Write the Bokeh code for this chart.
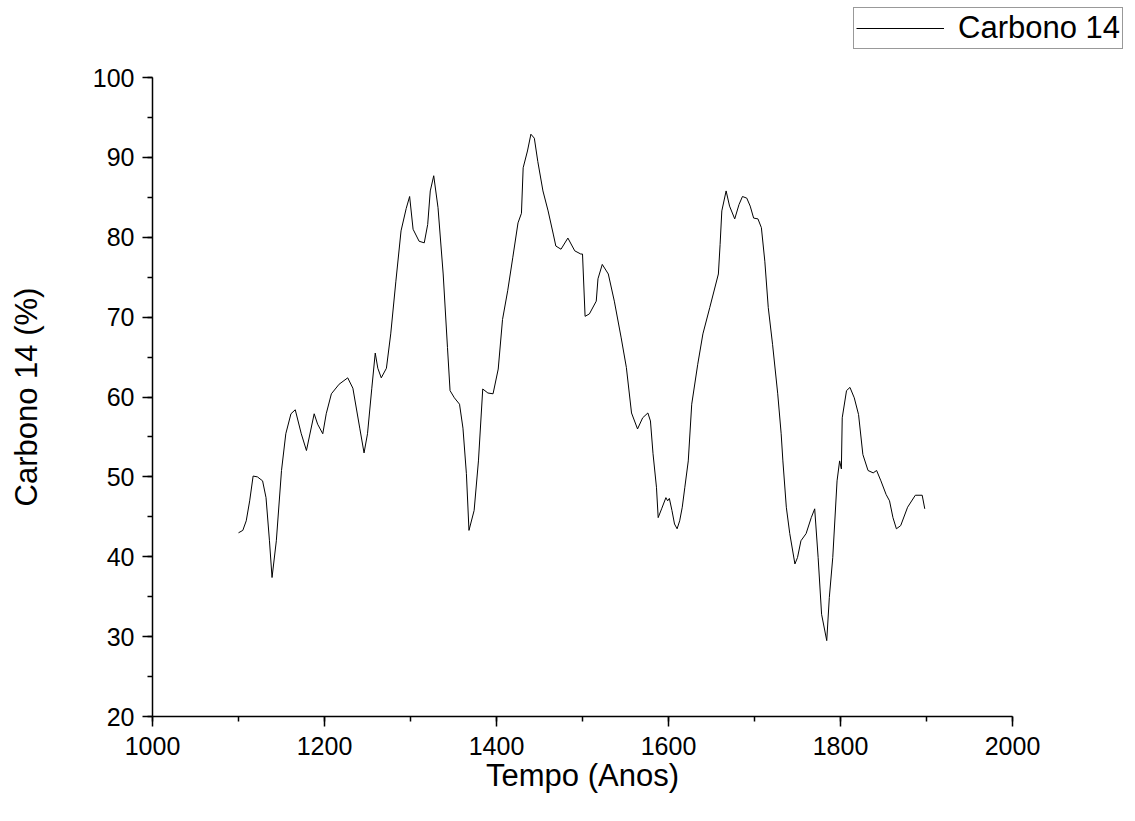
from bokeh.plotting import figure
from bokeh.models import Range1d, SingleIntervalTicker, Legend, LegendItem, ColumnDataSource
from bokeh.layouts import column, row
from bokeh.embed import file_html
from bokeh.resources import INLINE

years = [1100, 1105, 1109, 1113, 1117, 1122, 1128, 1132, 1136, 1139, 1144, 1150, 1155, 1161, 1166,
         1173, 1179, 1188, 1192, 1198, 1202, 1208, 1217, 1227, 1233, 1241, 1246, 1250, 1255, 1259,
         1262, 1266, 1272, 1277, 1283, 1289, 1295, 1299, 1303, 1310, 1316, 1320, 1323, 1327, 1332,
         1338, 1343, 1346, 1351, 1357, 1361, 1365, 1368, 1374, 1379, 1384, 1390, 1396, 1402, 1407,
         1413, 1419, 1425, 1429, 1431, 1436, 1440, 1444, 1448, 1454, 1460, 1466, 1469, 1475, 1483,
         1491, 1498, 1500, 1503, 1508, 1516, 1518, 1523, 1530, 1537, 1545, 1551, 1557, 1564, 1570,
         1576, 1579, 1582, 1586, 1588, 1592, 1597, 1599, 1601, 1604, 1607, 1610, 1613, 1616, 1619,
         1623, 1627, 1634, 1640, 1648, 1658, 1660, 1662, 1667, 1671, 1677, 1682, 1686, 1691, 1695,
         1699, 1704, 1708, 1712, 1716, 1721, 1727, 1731, 1733, 1737, 1741, 1747, 1750, 1754, 1760,
         1766, 1770, 1774, 1778, 1784, 1787, 1791, 1796, 1799, 1801, 1802, 1807, 1811, 1816, 1821,
         1826, 1832, 1838, 1842, 1847, 1853, 1857, 1861, 1865, 1870, 1878, 1887, 1895, 1898]

carbono14 = [43.0, 43.3, 44.5, 47.0, 50.1, 50.0, 49.5, 47.4, 42.0, 37.4, 42.0, 50.8, 55.4, 57.9, 58.4,
             55.4, 53.3, 57.9, 56.6, 55.4, 57.9, 60.4, 61.6, 62.4, 61.1, 56.1, 53.0, 55.4, 61.1, 65.5,
             63.6, 62.4, 63.6, 67.9, 74.5, 80.8, 83.6, 85.1, 81.0, 79.5, 79.3, 81.6, 85.8, 87.7, 83.7,
             75.4, 66.2, 60.8, 59.9, 59.1, 56.1, 50.4, 43.3, 45.8, 52.0, 61.0, 60.5, 60.4, 63.5, 69.7,
             73.3, 77.5, 81.8, 83.0, 88.7, 90.8, 92.9, 92.4, 89.5, 85.8, 83.3, 80.4, 78.9, 78.5, 79.9,
             78.3, 77.9, 77.9, 70.1, 70.4, 72.0, 74.8, 76.6, 75.4, 72.0, 67.4, 63.7, 58.0, 56.0, 57.4,
             58.0, 57.0, 52.9, 48.7, 44.9, 46.0, 47.4, 47.0, 47.3, 45.8, 44.1, 43.5, 44.5, 46.2, 48.7,
             52.0, 59.1, 64.1, 67.9, 71.2, 75.4, 79.1, 83.3, 85.8, 83.9, 82.3, 84.1, 85.1, 84.9, 83.9,
             82.4, 82.3, 81.2, 77.0, 71.2, 66.6, 60.4, 55.4, 52.0, 46.2, 42.9, 39.1, 39.9, 42.0, 42.9,
             44.9, 46.0, 39.9, 32.8, 29.5, 34.9, 39.9, 49.5, 52.0, 51.0, 57.4, 60.8, 61.2, 59.9, 57.8,
             52.8, 50.8, 50.5, 50.8, 49.5, 47.8, 47.0, 44.9, 43.5, 43.9, 46.2, 47.7, 47.7, 46.0]

series_name = "Carbono 14"
x_title = "Tempo (Anos)"
y_title = "Carbono 14 (%)"

FONT = "Liberation Sans"
TOP_H = 60

# legend strip above the plot (the reference's legend sits outside the plot frame)
top = figure(width=1135, height=TOP_H, output_backend="svg", toolbar_location=None,
             x_range=Range1d(0, 1), y_range=Range1d(0, 1),
             min_border=0, x_axis_type=None, y_axis_type=None)
top.outline_line_color = None
top.grid.visible = False
# proxy renderer for the legend swatch; its points lie outside the strip's visible range
legend_line = top.line(x=[5, 6], y=[5, 6], line_color="black", line_width=1)

legend = Legend(items=[LegendItem(label=series_name, renderers=[legend_line])],
                location=(853, TOP_H - 49), orientation="vertical")
legend.label_text_font = FONT
legend.label_text_font_size = "31px"
legend.label_text_color = "black"
legend.border_line_color = "#333333"
legend.border_line_width = 1
legend.background_fill_alpha = 1
legend.padding = 2
legend.margin = 0
legend.spacing = 0
legend.glyph_width = 88
legend.glyph_height = 30
legend.label_standoff = 14
legend.label_height = 30
top.add_layout(legend, "center")

p = figure(width=1135, height=821 - TOP_H, output_backend="svg", toolbar_location=None,
           x_range=Range1d(1000, 2000), y_range=Range1d(20, 100),
           min_border_left=152, min_border_right=123, min_border_top=77 - TOP_H,
           min_border_bottom=105)
p.outline_line_color = None
p.grid.visible = False

src = ColumnDataSource(dict(x=years, y=carbono14))
p.line("x", "y", source=src, line_color="black", line_width=1)

p.xaxis.ticker = SingleIntervalTicker(interval=200, num_minor_ticks=2)
p.yaxis.ticker = SingleIntervalTicker(interval=10, num_minor_ticks=2)

for ax in (p.xaxis[0], p.yaxis[0]):
    ax.axis_line_color = "black"
    ax.axis_line_width = 1.5
    ax.major_tick_line_color = "black"
    ax.major_tick_line_width = 1.5
    ax.minor_tick_line_color = "black"
    ax.minor_tick_line_width = 1.5
    ax.major_tick_in = 0
    ax.major_tick_out = 10
    ax.minor_tick_in = 0
    ax.minor_tick_out = 5
    ax.major_label_text_font = FONT
    ax.major_label_text_font_size = "25px"
    ax.major_label_text_color = "black"
    ax.axis_label_text_font = FONT
    ax.axis_label_text_font_size = "31px"
    ax.axis_label_text_font_style = "normal"
    ax.axis_label_text_color = "black"

p.xaxis.axis_label = x_title
p.yaxis.axis_label = y_title
p.xaxis.major_label_standoff = 10
p.yaxis.major_label_standoff = 8
p.xaxis.axis_label_standoff = 0
p.yaxis.axis_label_standoff = 46

layout = column(row(top, spacing=0), row(p, spacing=0), spacing=0)
open("out.html", "w").write(file_html(layout, INLINE))
